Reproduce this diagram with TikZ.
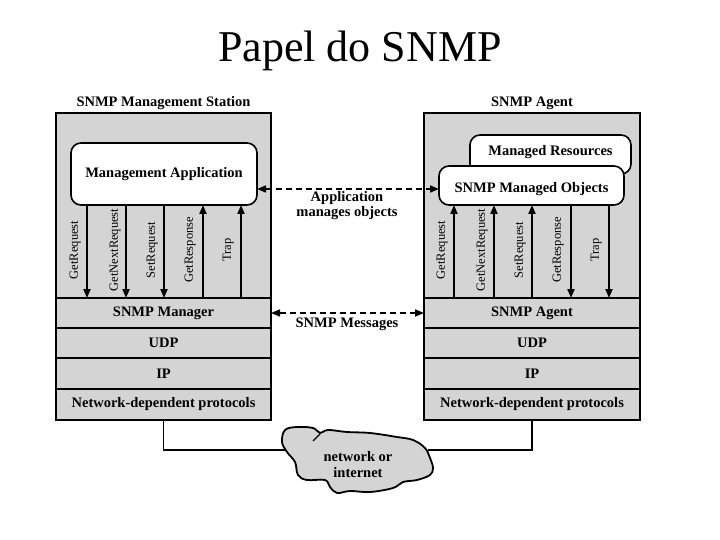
\documentclass[tikz,border=0pt]{standalone}
\usepackage{fontspec}
\setmainfont{Liberation Serif}
\usetikzlibrary{arrows.meta}
\definecolor{boxgray}{RGB}{212,212,212}
\begin{document}
\begin{tikzpicture}[x=1pt,y=-1pt,
  panel/.style={draw=black,line width=1.6pt,fill=boxgray,inner sep=0pt,outer sep=0pt},
  layer/.style={draw=black,line width=1.6pt,fill=boxgray,inner sep=0pt,outer sep=0pt,
    font=\fontsize{14.5}{16}\selectfont\bfseries},
  appbox/.style={draw=black,line width=1.6pt,fill=white,rounded corners=10pt,inner sep=0pt,outer sep=0pt,
    font=\fontsize{14.5}{16}\selectfont\bfseries},
  boldtxt/.style={font=\fontsize{14.5}{16}\selectfont\bfseries,inner sep=0pt},
  rottxt/.style={font=\fontsize{12.5}{14}\selectfont,rotate=90,inner sep=0pt},
  msg/.style={line width=2pt,-{Triangle[length=9pt,width=7pt]}},
  darr/.style={line width=1.6pt,dash pattern=on 6pt off 4pt,{Triangle[length=9pt,width=7pt]}-{Triangle[length=9pt,width=7pt]}},
  wire/.style={line width=1.8pt}
]
\useasboundingbox (0,0) rectangle (720,540);

% title
\node[anchor=base,inner sep=0pt] (title) at (360,62) {\fontsize{44}{50}\selectfont Papel do SNMP};

% ---------- left station ----------
\node[boldtxt] (lsTitle) at (163.5,103) {SNMP Management Station};
\node[panel,minimum width=215pt,minimum height=307pt] (ls) at (163.5,266.5) {};
\node[appbox,minimum width=186pt,minimum height=62pt] (app) at (164,174) {Management Application};
\node[layer,minimum width=215pt,minimum height=30pt] (mgrL) at (163.5,313) {SNMP Manager};
\node[layer,minimum width=215pt,minimum height=30pt] (udpL) at (163.5,343) {UDP};
\node[layer,minimum width=215pt,minimum height=31pt] (ipL) at (163.5,373.5) {IP};
\node[layer,minimum width=215pt,minimum height=31pt] (ndpL) at (163.5,404.5) {Network-dependent protocols};

\draw[msg] (87,0 |- app.south) -- (87,0 |- mgrL.north);
\draw[msg] (126,0 |- app.south) -- (126,0 |- mgrL.north);
\draw[msg] (164,0 |- app.south) -- (164,0 |- mgrL.north);
\draw[msg] (203,0 |- mgrL.north) -- (203,0 |- app.south);
\draw[msg] (241,0 |- mgrL.north) -- (241,0 |- app.south);

\node[rottxt] (lGR) at (75,250) {GetRequest};
\node[rottxt] (lGNR) at (115,250) {GetNextRequest};
\node[rottxt] (lSR) at (152,250) {SetRequest};
\node[rottxt] (lGRs) at (190,250) {GetResponse};
\node[rottxt] (lTr) at (228,250) {Trap};

% ---------- right agent ----------
\node[boldtxt] (raTitle) at (532,103) {SNMP Agent};
\node[panel,minimum width=216pt,minimum height=307pt] (ra) at (532,266.5) {};
\node[appbox,minimum width=161pt,minimum height=39pt] (res) at (550.5,154.5) {};
\node[boldtxt] (resTxt) at (550.5,152) {Managed Resources};
\node[appbox,minimum width=185pt,minimum height=39pt] (obj) at (531.5,185.5) {};
\node[boldtxt] (objTxt) at (531.5,189) {SNMP Managed Objects};
\node[layer,minimum width=216pt,minimum height=30pt] (agL) at (532,313) {SNMP Agent};
\node[layer,minimum width=216pt,minimum height=30pt] (udpR) at (532,343) {UDP};
\node[layer,minimum width=216pt,minimum height=31pt] (ipR) at (532,373.5) {IP};
\node[layer,minimum width=216pt,minimum height=31pt] (ndpR) at (532,404.5) {Network-dependent protocols};

\draw[msg] (454,0 |- agL.north) -- (454,0 |- obj.south);
\draw[msg] (494,0 |- agL.north) -- (494,0 |- obj.south);
\draw[msg] (532,0 |- agL.north) -- (532,0 |- obj.south);
\draw[msg] (571,0 |- obj.south) -- (571,0 |- agL.north);
\draw[msg] (609,0 |- obj.south) -- (609,0 |- agL.north);

\node[rottxt] (rGR) at (442,250) {GetRequest};
\node[rottxt] (rGNR) at (482,250) {GetNextRequest};
\node[rottxt] (rSR) at (520,250) {SetRequest};
\node[rottxt] (rGRs) at (558,250) {GetResponse};
\node[rottxt] (rTr) at (596,250) {Trap};

% ---------- middle ----------
\draw[darr] (app.east |- 0,189) -- (obj.west |- 0,189);
\node[boldtxt] (amo1) at (347,198) {Application};
\node[boldtxt] (amo2) at (347,213) {manages objects};
\draw[darr] (ls.east |- 0,313) -- (ra.west |- 0,313);
\node[boldtxt] (smsg) at (347,324) {SNMP Messages};

% ---------- cloud ----------
\draw[line width=1.8pt,fill=boxgray,line join=round]
  plot[smooth cycle,tension=0.6] coordinates {
  (285,430) (297,427) (313,428) (320,433) (328,430) (347,432) (370,433)
  (397,437) (413,440) (425,448) (430,458) (433,468) (430,475) (417,480)
  (403,482) (393,488) (370,492) (350,491) (337,493) (330,487) (325,480)
  (307,480) (298,475) (295,462) (287,452) (282,442)};
\draw[line width=1.4pt] (313,441) -- (320,434);
\coordinate (cl) at (286,450);
\coordinate (cr) at (428,450);
\node[boldtxt,align=center] (net) at (358,465) {network or\\internet};

\draw[wire] (ndpL.south) -- (ndpL.south |- cl) -- (cl);
\draw[wire] (ndpR.south) -- (ndpR.south |- cr) -- (cr);
\end{tikzpicture}
\end{document}
